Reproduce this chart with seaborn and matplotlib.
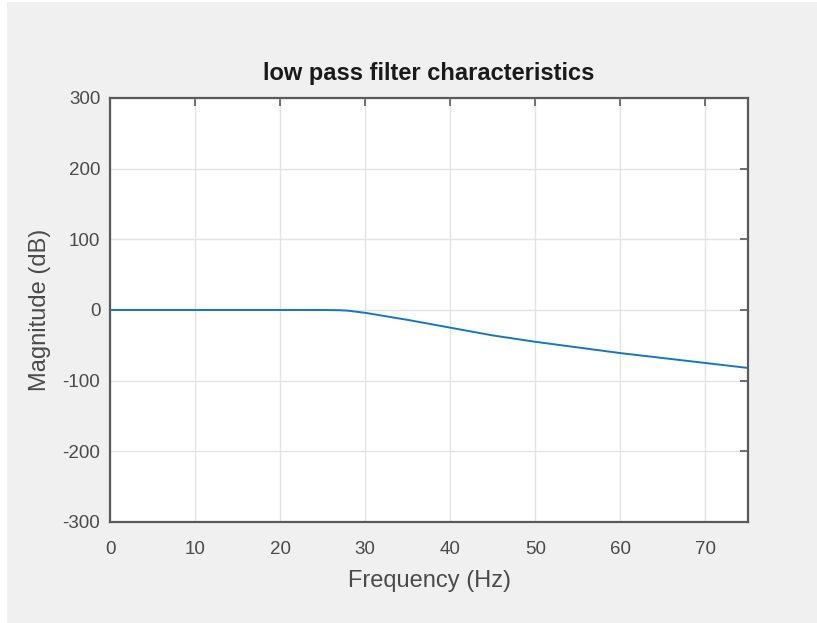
import matplotlib
matplotlib.use("Agg")
import matplotlib.pyplot as plt
from matplotlib import font_manager
from matplotlib.patches import Rectangle
import seaborn as sns
import pandas as pd

# Filter response samples (frequency in Hz, magnitude in dB)
freq_hz = [0, 5, 10, 15, 20, 25, 27, 28, 30, 32, 35, 40, 45, 50, 55, 60, 65, 70, 75]
mag_db = [0, 0, 0, 0, 0, 0, -0.3, -1, -4, -8, -14, -25, -36, -45, -53, -61, -68, -75, -82]

x_ticks = [0, 10, 20, 30, 40, 50, 60, 70]
y_ticks = [-300, -200, -100, 0, 100, 200, 300]

title = "low pass filter characteristics"
x_label = "Frequency (Hz)"
y_label = "Magnitude (dB)"

sns.set_style("white")
names = {f.name for f in font_manager.fontManager.ttflist}
family = "Liberation Sans Narrow" if "Liberation Sans Narrow" in names else "Liberation Sans"
plt.rcParams["font.family"] = [family, "DejaVu Sans"]
plt.rcParams["axes.unicode_minus"] = False

bg = "#f0f0f0"
fig = plt.figure(figsize=(8.17, 6.23), dpi=100, facecolor="white")
fig.patches.append(Rectangle((7 / 817, 0), 1, 1 - 2 / 623, transform=fig.transFigure,
                             facecolor=bg, edgecolor="none", zorder=-10))

ax = fig.add_axes([110 / 817, 101 / 623, 638 / 817, 424 / 623])
ax.set_facecolor("white")

df = pd.DataFrame({"freq": freq_hz, "mag": mag_db})
sns.lineplot(data=df, x="freq", y="mag", ax=ax, color="#1477c2", linewidth=1.4)

ax.set_xlim(0, 75)
ax.set_ylim(-300, 300)
ax.set_xticks(x_ticks)
ax.set_yticks(y_ticks)

ax.grid(True, color="#e3e3e3", linewidth=1.0)
ax.set_axisbelow(True)

for s in ax.spines.values():
    s.set_color("#5a5a5a")
    s.set_linewidth(1.6)

ax.tick_params(axis="both", direction="in", length=6, width=1.2, color="#5a5a5a",
               labelsize=13.5, labelcolor="#4a4a4a", top=True, right=True)
ax.tick_params(axis="x", pad=14)
ax.tick_params(axis="y", pad=7)

ax.set_title(title, fontsize=17, fontweight="bold", color="#1a1a1a", pad=13)
ax.set_xlabel(x_label, fontsize=17, color="#4a4a4a", labelpad=8)
ax.set_ylabel(y_label, fontsize=17, color="#4a4a4a", labelpad=8)

fig.savefig("out.png", dpi=100, facecolor=fig.get_facecolor())
